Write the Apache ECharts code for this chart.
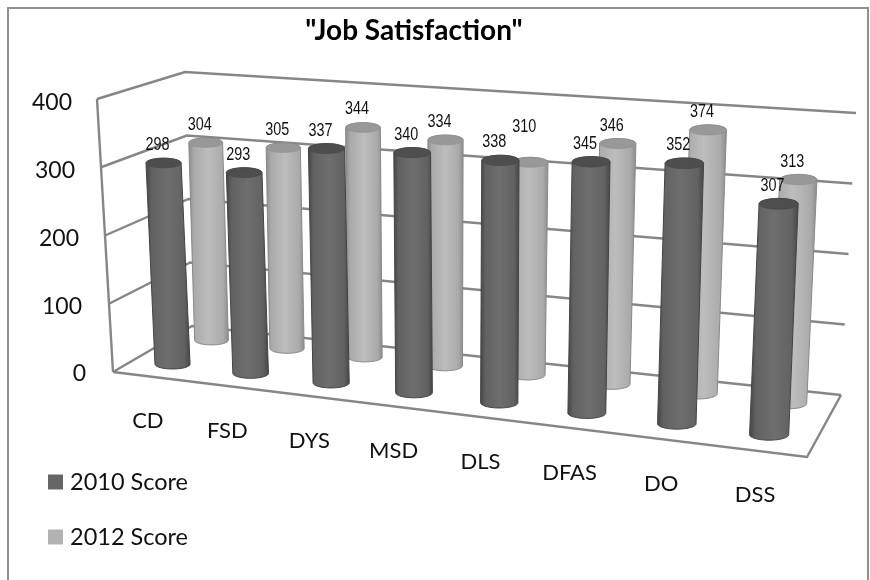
<!DOCTYPE html>
<html>
<head>
<meta charset="utf-8">
<style>html,body{margin:0;padding:0;background:#fff}#chart{width:870px;height:580px}</style>
<script src="https://cdn.jsdelivr.net/npm/echarts@6/dist/echarts.min.js"></script>
</head>
<body>
<div id="chart"></div>
<script>
// Chart values
const categories = ['CD', 'FSD', 'DYS', 'MSD', 'DLS', 'DFAS', 'DO', 'DSS'];
const score2010 = [298, 293, 337, 340, 338, 345, 352, 307];
const score2012 = [304, 305, 344, 334, 310, 346, 374, 313];
const tickValues = [0, 100, 200, 300, 400];

const LINE = '#868686';
const LATO = 'Lato, "Open Sans", sans-serif';

// Corners of the plot box in screen space: floor and ceiling, front and back.
const box = {
  floor: { fl: [113, 372], fr: [807, 457], bl: [192, 326], br: [841, 395] },
  roof:  { fl: [97, 99],   fr: [821, 146], bl: [185, 72],  br: [856, 113] }
};
const mix = (a, b, k) => [a[0] + (b[0] - a[0]) * k, a[1] + (b[1] - a[1]) * k];

// Foreshortening along the long side of the box.
const warp = u => u * (0.889 + 0.111 * u);

// u: 0..1 along the categories, w: 0..1 front to back, t: 0..1 up the value axis.
function project(u, w, t) {
  const k = warp(u);
  const lo = mix(mix(box.floor.fl, box.floor.fr, k), mix(box.floor.bl, box.floor.br, k), w);
  const hi = mix(mix(box.roof.fl, box.roof.fr, k), mix(box.roof.bl, box.roof.br, k), w);
  return mix(lo, hi, t);
}

// Reads the normalised position of a data point from the cartesian axes.
function axisPos(params, api, cat, value) {
  const cs = params.coordSys;
  const p = api.coord([cat, value]);
  return { u: (p[0] - cs.x) / cs.width, t: (cs.y + cs.height - p[1]) / cs.height };
}

function ellipsePoints(c, rx, ry, from, to) {
  const pts = [];
  for (let i = 0; i <= 28; i++) {
    const a = from + (to - from) * i / 28;
    pts.push([c[0] + rx * Math.cos(a), c[1] + ry * Math.sin(a)]);
  }
  return pts;
}

function gradient(edge, mid, glow) {
  return {
    type: 'linear', x: 0, y: 0, x2: 1, y2: 0,
    colorStops: [
      { offset: 0, color: edge }, { offset: 0.14, color: mid },
      { offset: 0.5, color: glow }, { offset: 0.86, color: mid },
      { offset: 1, color: edge }
    ]
  };
}

// One cylinder with its value label.
function cylinder(depth, palette, labelLift) {
  return function (params, api) {
    const cat = api.value(0);
    const value = api.value(1);
    const pos = axisPos(params, api, cat, value);
    const bottom = project(pos.u, depth, 0);
    const top = project(pos.u, depth, pos.t);
    const full = project(pos.u, depth, 1);
    const r = 0.065 * Math.hypot(full[0] - bottom[0], full[1] - bottom[1]);
    const ryTop = r * 0.28;
    const ryBottom = r * 0.28;
    // Underside of the base ellipse, then over the far rim of the cap.
    const bodyPts = ellipsePoints(bottom, r, ryBottom, Math.PI, 0)
      .concat(ellipsePoints(top, r, ryTop, 0, -Math.PI));
    return {
      type: 'group',
      children: [
        {
          type: 'polygon', shape: { points: bodyPts },
          style: { fill: gradient(palette.edge, palette.mid, palette.glow), stroke: palette.edge, lineWidth: 1 }
        },
        {
          type: 'polygon', shape: { points: ellipsePoints(top, r, ryTop, 0, Math.PI * 2) },
          style: { fill: palette.cap, stroke: palette.edge, lineWidth: 0.5 }
        },
        {
          type: 'text', z2: 100, scaleX: 0.8,
          x: top[0] - 6, y: top[1] - 18 - (labelLift[cat] || 0),
          style: {
            text: String(value), align: 'center', verticalAlign: 'middle', fill: '#111',
            font: '18px "Liberation Sans", sans-serif'
          }
        }
      ]
    };
  };
}

// Box walls: gridline per tick across both walls, plus the floor outline and front axis.
function renderWalls(params, api) {
  const value = api.value(1);
  const t = axisPos(params, api, 0, value).t;
  const stroke = { stroke: LINE, lineWidth: 2.4, fill: null };
  const children = [{
    type: 'polyline',
    shape: { points: [project(0, 0, t), project(0, 1, t), project(1, 1, t)] },
    style: stroke
  }];
  if (value === 0) {
    children.push({
      type: 'polyline',
      shape: { points: [project(0, 0, 0), project(1, 0, 0), project(1, 1, 0)] },
      style: stroke
    });
    children.push({
      type: 'line',
      shape: { x1: box.floor.fl[0], y1: box.floor.fl[1], x2: box.roof.fl[0], y2: box.roof.fl[1] },
      style: stroke
    });
  }
  return { type: 'group', children: children };
}

// Category names sit below the front edge of the floor.
function renderCategoryLabel(params, api) {
  const cat = api.value(0);
  const pos = axisPos(params, api, cat, 0);
  const p = project(pos.u, 0, 0);
  return {
    type: 'text', z2: 100, x: p[0] - 4, y: p[1] + 44,
    style: {
      text: categories[cat], align: 'center', verticalAlign: 'middle', fill: '#111',
      font: '22px ' + LATO
    }
  };
}

const chart = echarts.init(document.getElementById('chart'), null, { renderer: 'canvas' });
chart.setOption({
  animation: false,
  backgroundColor: '#fff',
  title: {
    text: '"Job Satisfaction"',
    left: 409, top: 12, textAlign: 'center',
    textStyle: { fontFamily: LATO, fontSize: 28, fontWeight: 'bold', color: '#000' }
  },
  legend: {
    orient: 'vertical', left: 48, top: 470, padding: 0, itemWidth: 15, itemHeight: 15, itemGap: 31,
    icon: 'rect',
    data: [
      { name: '2010 Score', itemStyle: { color: '#666666' } },
      { name: '2012 Score', itemStyle: { color: '#b2b2b2' } }
    ],
    textStyle: { fontFamily: LATO, fontSize: 23.5, color: '#111', padding: [0, 0, 0, 2] }
  },
  graphic: [{
    type: 'rect', shape: { x: 8, y: 8, width: 860, height: 600 },
    style: { fill: null, stroke: '#909090', lineWidth: 2 }, silent: true
  }],
  grid: { left: 113, top: 103, width: 694, height: 271 },
  xAxis: { type: 'category', data: categories, show: false },
  yAxis: {
    type: 'value', min: 0, max: 400, interval: 100,
    splitLine: { show: false }, axisLine: { show: false }, axisTick: { show: false },
    axisLabel: {
      margin: 27,
      formatter: v => '{t' + v + '|' + v + '}',
      rich: Object.fromEntries(tickValues.map(v => ['t' + v, {
        fontFamily: LATO, fontSize: 23, color: '#111',
        padding: [0, Math.round(v * 0.035), 0, 0]
      }]))
    }
  },
  series: [
    {
      type: 'custom', name: 'walls', silent: true, coordinateSystem: 'cartesian2d',
      renderItem: renderWalls, data: tickValues.map(v => [0, v]), encode: { x: 0, y: 1 }
    },
    {
      type: 'custom', name: '2012 Score', silent: true, coordinateSystem: 'cartesian2d',
      itemStyle: { color: '#b2b2b2' },
      renderItem: cylinder(0.78, { edge: '#8a8a8a', mid: '#aaaaaa', glow: '#bdbdbd', cap: '#989898' }, { 4: 17 }),
      data: score2012.map((v, i) => [i, v]), encode: { x: 0, y: 1 }
    },
    {
      type: 'custom', name: '2010 Score', silent: true, coordinateSystem: 'cartesian2d',
      itemStyle: { color: '#666666' },
      renderItem: cylinder(0.27, { edge: '#444444', mid: '#626262', glow: '#6e6e6e', cap: '#4e4e4e' }, {}),
      data: score2010.map((v, i) => [i, v]), encode: { x: 0, y: 1 }
    },
    {
      type: 'custom', name: 'categories', silent: true, coordinateSystem: 'cartesian2d',
      renderItem: renderCategoryLabel, data: categories.map((c, i) => [i, 0]), encode: { x: 0, y: 1 }
    }
  ]
});
</script>
</body>
</html>
